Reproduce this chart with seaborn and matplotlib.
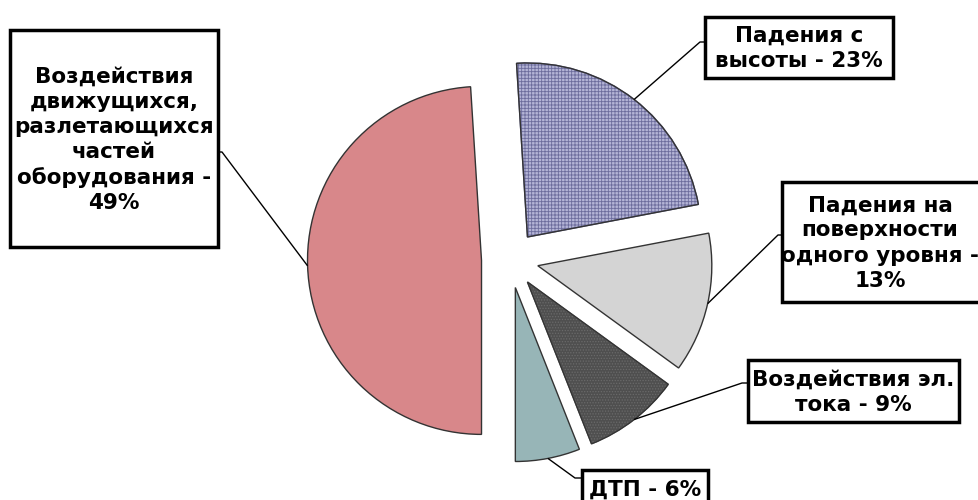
import matplotlib
matplotlib.use("Agg")
import matplotlib.pyplot as plt
from matplotlib.patches import Wedge, Rectangle
import numpy as np
import seaborn as sns

# Causes of injuries, share in percent
labels = [
    "Воздействия\nдвижущихся,\nразлетающихся\nчастей\nоборудования -\n49%",
    "Падения с\nвысоты - 23%",
    "Падения на\nповерхности\nодного уровня -\n13%",
    "Воздействия эл.\nтока - 9%",
    "ДТП - 6%",
]
shares = [49, 23, 13, 9, 6]
colors = ["#d8878a", "#b4b4d6", "#d4d4d4", "#4f4f4f", "#97b5b7"]
hatches = [None, "+++++", None, "......", None]
hatch_colors = [None, "#6c6c9c", None, "#6a6a6a", None]

sns.set_style("white")
plt.rcParams["font.family"] = ["DejaVu Sans"]
plt.rcParams["hatch.linewidth"] = 0.6

W, H = 979, 500
fig = plt.figure(figsize=(W / 100, H / 100), dpi=100)
ax = fig.add_axes([0, 0, 1, 1])

cx, cy, r = 510, H - 259.5, 174
wedges, _ = ax.pie(shares, startangle=270, counterclock=False, colors=colors,
                   explode=[28.5] * len(shares), radius=r, center=(cx, cy),
                   wedgeprops=dict(edgecolor="#333333", linewidth=1.0))
for w, h, hc in zip(wedges, hatches, hatch_colors):
    if h:
        w.set_hatch(h)
        w.set_edgecolor(hc)
        ax.add_patch(Wedge(w.center, w.r, w.theta1, w.theta2, fill=False,
                           edgecolor="#333333", linewidth=1.0))

# layout in image pixels: box (x0, y0, x1, y1), text centre, leader tick (start, end)
boxes = [(10, 30, 218, 247), (705, 17, 893, 78), (782, 182, 995, 302),
         (748, 360, 959, 422), (582, 470, 708, 512)]
text_pos = [(114, 140), (799, 48), (880, 243), (853, 392), (645, 490)]
ticks = [((222, 152), (218, 152)), ((700, 42), (705, 42)), ((778, 235), (782, 235)),
         ((742, 383), (748, 383)), ((575, 478), (582, 478))]

for w, lab, (x0, y0, x1, y1), (tx, ty), (t0, t1) in zip(wedges, labels, boxes,
                                                          text_pos, ticks):
    ang = np.deg2rad((w.theta1 + w.theta2) / 2)
    wx, wy = w.center
    anchor = (wx + w.r * np.cos(ang), wy + w.r * np.sin(ang))
    ax.plot([anchor[0], t0[0], t1[0]], [anchor[1], H - t0[1], H - t1[1]],
            color="black", lw=1.0, solid_capstyle="butt", zorder=3)
    ax.add_patch(Rectangle((x0, H - y1), x1 - x0, y1 - y0, fc="white",
                           ec="black", lw=2.5, zorder=4))
    ax.text(tx, H - ty, lab, ha="center", va="center", fontsize=15.5,
            fontweight="bold", linespacing=1.32, color="black", zorder=5)

ax.set_xlim(0, W)
ax.set_ylim(0, H)
ax.set_aspect("equal")
ax.axis("off")

fig.savefig("out.png", dpi=100, facecolor="white")
